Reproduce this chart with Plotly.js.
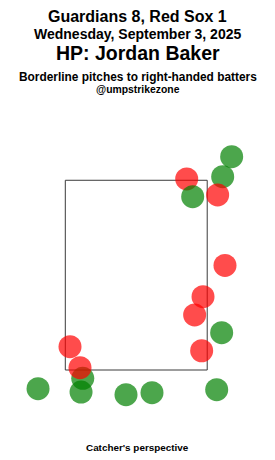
<!DOCTYPE html>
<html>
<head>
<meta charset="utf-8">
<script src="https://cdn.plot.ly/plotly-3.0.1.min.js"></script>
<style>html,body{margin:0;padding:0;background:#fff;}#chart{width:275px;height:460px;}</style>
</head>
<body>
<div id="chart"></div>
<script>
// Pitch locations in plotting order (feet from plate centre, height in feet), catcher's perspective
const pitchX = [1.011, 0.952, 0.590, 0.660, 1.116, 1.038, 0.781, 0.683, 0.765, 0.999,
                -0.626, -0.658, -0.775, -0.646, -1.149, -0.120, 0.184, 0.941];
const pitchZ = [3.538, 3.345, 3.514, 3.327, 3.749, 2.602, 2.273, 2.080, 1.703, 1.893,
                1.412, 1.524, 1.746, 1.268, 1.303, 1.240, 1.261, 1.292];
const pitchCall = ["correct", "missed", "missed", "correct", "correct", "missed", "missed", "missed", "missed", "correct",
                   "correct", "missed", "missed", "correct", "correct", "correct", "correct", "correct"];
const zoneX = [-0.83, 0.83];
const zoneZ = [1.5, 3.5];

const titleLines = [
  "Guardians 8, Red Sox 1",
  "Wednesday, September 3, 2025",
  "HP: Jordan Baker",
  "Borderline pitches to right-handed batters",
  "@umpstrikezone"
];
const footer = "Catcher's perspective";

const FONT = "Liberation Sans, Arial, sans-serif";
const callColor = {correct: "rgba(0,128,0,0.7)", missed: "rgba(255,0,0,0.7)"};
const plotTop = 130, plotBottom = 420;
function py(p) { return (plotBottom - p) / (plotBottom - plotTop); }

const titleSpecs = [
  {y: 16, size: 16},
  {y: 33.5, size: 14},
  {y: 53.5, size: 19.5},
  {y: 76.5, size: 11.9},
  {y: 90, size: 10.4}
];

const annotations = titleLines.map((t, i) => ({
  text: "<b>" + t + "</b>", xref: "paper", yref: "paper", x: 0.5, y: py(titleSpecs[i].y),
  xanchor: "center", yanchor: "middle", showarrow: false,
  font: {family: FONT, size: titleSpecs[i].size, color: "#000"}
}));
annotations.push({
  text: "<b>" + footer + "</b>", xref: "paper", yref: "paper", x: 0.5, y: py(447),
  xanchor: "center", yanchor: "middle", showarrow: false,
  font: {family: FONT, size: 9.9, color: "#000"}
});

const traces = [
  {x: pitchX, y: pitchZ, mode: "markers", type: "scatter", hoverinfo: "skip",
   marker: {size: 23, color: pitchCall.map(c => callColor[c]), line: {width: 0}}}
];

const axisBase = {showgrid: false, zeroline: false, showticklabels: false, showline: false, ticks: "", fixedrange: true};

const layout = {
  width: 275, height: 460,
  margin: {l: 10, r: 10, t: plotTop, b: 460 - plotBottom, pad: 0},
  paper_bgcolor: "#fff", plot_bgcolor: "#fff",
  showlegend: false,
  xaxis: Object.assign({range: [-1.477, 1.506]}, axisBase),
  yaxis: Object.assign({range: [0.973, 4.030]}, axisBase),
  shapes: [{type: "rect", xref: "x", yref: "y", x0: zoneX[0], x1: zoneX[1], y0: zoneZ[0], y1: zoneZ[1],
            line: {color: "#3a3a3a", width: 1}, fillcolor: "rgba(0,0,0,0)", layer: "below"}],
  annotations: annotations
};

Plotly.newPlot("chart", traces, layout, {displayModeBar: false, staticPlot: true});
</script>
</body>
</html>
